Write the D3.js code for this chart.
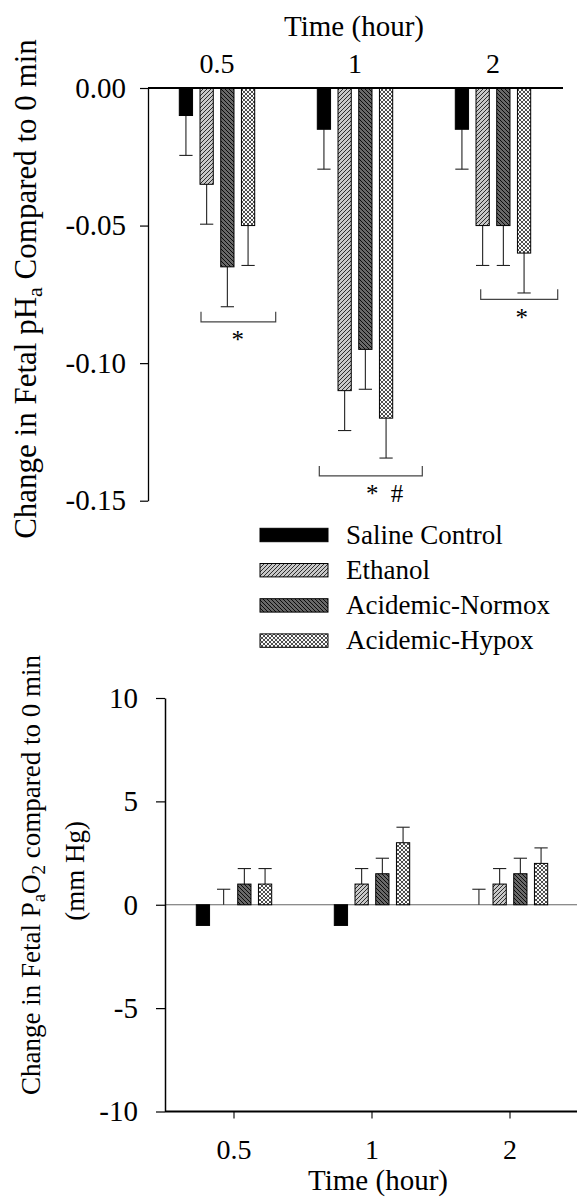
<!DOCTYPE html>
<html>
<head>
<meta charset="utf-8">
<script src="https://cdn.jsdelivr.net/npm/d3@7"></script>
<style>
  html, body { margin: 0; padding: 0; background: #fff; }
  svg { display: block; }
</style>
</head>
<body>
<svg id="chart" width="578" height="1201"></svg>
<script>
// ---- data ----
const times = ["0.5", "1", "2"];
const groups = ["Saline Control", "Ethanol", "Acidemic-Normox", "Acidemic-Hypox"];

// change in fetal arterial pH (mean, SEM) at each time point
const phSaline  = [-0.010, -0.015, -0.015];
const phEthanol = [-0.035, -0.110, -0.050];
const phNormox  = [-0.065, -0.095, -0.050];
const phHypox   = [-0.050, -0.120, -0.060];
const phSalineErr  = [0.0145, 0.0145, 0.0145];
const phEthanolErr = [0.0145, 0.0145, 0.0145];
const phNormoxErr  = [0.0145, 0.0145, 0.0145];
const phHypoxErr   = [0.0145, 0.0145, 0.0145];
const phTicks = [0, -0.05, -0.10, -0.15];

// significance markers for the pH panel
const phSigTimes  = ["0.5", "1", "2"];
const phSigLevels = [-0.085, -0.141, -0.0768];
const phSigLabels = ["*", "* #", "*"];

// change in fetal PaO2 (mm Hg, mean, SEM)
const po2Saline  = [-1, -1, 0];
const po2Ethanol = [0, 1, 1];
const po2Normox  = [1, 1.5, 1.5];
const po2Hypox   = [1, 3, 2];
const po2SalineErr  = [0, 0, 0.75];
const po2EthanolErr = [0.75, 0.75, 0.75];
const po2NormoxErr  = [0.75, 0.75, 0.75];
const po2HypoxErr   = [0.75, 0.75, 0.75];
const po2Ticks = [10, 5, 0, -5, -10];

const phSeries = [
  { name: groups[0], values: phSaline,  errs: phSalineErr },
  { name: groups[1], values: phEthanol, errs: phEthanolErr },
  { name: groups[2], values: phNormox,  errs: phNormoxErr },
  { name: groups[3], values: phHypox,   errs: phHypoxErr }
];
const po2Series = [
  { name: groups[0], values: po2Saline,  errs: po2SalineErr },
  { name: groups[1], values: po2Ethanol, errs: po2EthanolErr },
  { name: groups[2], values: po2Normox,  errs: po2NormoxErr },
  { name: groups[3], values: po2Hypox,   errs: po2HypoxErr }
];

// ---- setup ----
const SERIF = "Liberation Serif";
const svg = d3.select("#chart");

function styleText(sel, size) {
  return sel.attr("font-family", SERIF).style("font-family", `"${SERIF}"`)
    .attr("font-size", size).style("font-size", size + "px").attr("fill", "#000");
}

// fill patterns
const defs = svg.append("defs");
function hatch(id, bg, d, stroke, sw) {
  const p = defs.append("pattern").attr("id", id)
    .attr("patternUnits", "userSpaceOnUse").attr("width", 4).attr("height", 4);
  p.append("rect").attr("width", 4).attr("height", 4).attr("fill", bg);
  p.append("path").attr("d", d).attr("stroke", stroke).attr("stroke-width", sw).attr("fill", "none");
}
hatch("pEthanol", "#c8c8c8", "M-1,1 l2,-2 M0,4 l4,-4 M3,5 l2,-2", "#111", 0.85);
hatch("pNormox", "#686868", "M-1,3 l2,2 M0,0 l4,4 M3,-1 l2,2", "#000", 0.9);
hatch("pHypox", "#fafafa", "M-1,1 l2,-2 M0,4 l4,-4 M3,5 l2,-2 M-1,3 l2,2 M0,0 l4,4 M3,-1 l2,2", "#222", 0.8);

const fills = d3.scaleOrdinal()
  .domain(groups)
  .range(["#000", "url(#pEthanol)", "url(#pNormox)", "url(#pHypox)"]);

const GROUP_SPAN = 75.4;
const x1 = d3.scaleBand().domain(groups).range([0, GROUP_SPAN]).paddingInner(0.36);

function barX(x0, t, name) {
  return x0(t) + (x0.bandwidth() - GROUP_SPAN) / 2 + x1(name);
}

function drawBars(g, x0, y, series) {
  const flat = [];
  series.forEach(s => times.forEach((t, i) => flat.push({ name: s.name, t, v: s.values[i], e: s.errs[i] })));

  // error bars (drawn away from zero)
  const eb = g.append("g").attr("stroke", "#222").attr("stroke-width", 1.1);
  flat.filter(d => d.e > 0).forEach(d => {
    const cx = barX(x0, d.t, d.name) + x1.bandwidth() / 2;
    const dir = d.v < 0 ? -1 : 1;
    const y1 = y(d.v), y2 = y(d.v + dir * d.e);
    eb.append("line").attr("x1", cx).attr("x2", cx).attr("y1", y1).attr("y2", y2);
    eb.append("line").attr("x1", cx - x1.bandwidth() / 2).attr("x2", cx + x1.bandwidth() / 2)
      .attr("y1", y2).attr("y2", y2);
  });

  g.append("g").selectAll("rect")
    .data(flat.filter(d => d.v !== 0))
    .join("rect")
    .attr("x", d => barX(x0, d.t, d.name))
    .attr("width", x1.bandwidth())
    .attr("y", d => Math.min(y(d.v), y(0)))
    .attr("height", d => Math.abs(y(d.v) - y(0)))
    .attr("fill", d => fills(d.name))
    .attr("stroke", "#000")
    .attr("stroke-width", 1);
}

// ---- pH panel ----
const phX = d3.scaleBand().domain(times).range([148, 562]);
const phY = d3.scaleLinear().domain([-0.15, 0]).range([500.7, 88]);
const gTop = svg.append("g");

drawBars(gTop, phX, phY, phSeries);

const topAxis = gTop.append("g").attr("transform", `translate(0,${phY(0)})`)
  .call(d3.axisTop(phX).tickSize(0).tickSizeOuter(0).tickPadding(15));
topAxis.attr("font-family", SERIF);
topAxis.select(".domain").attr("stroke-width", 1.8).attr("d", `M148,0H563`);
styleText(topAxis.selectAll("text"), 28);

const leftTop = gTop.append("g").attr("transform", "translate(148,0)")
  .call(d3.axisLeft(phY).tickValues(phTicks).tickSize(8).tickSizeOuter(0).tickPadding(14)
    .tickFormat(d => d.toFixed(2)));
leftTop.attr("font-family", SERIF);
leftTop.select(".domain").attr("stroke-width", 1.3);
leftTop.selectAll(".tick line").attr("stroke-width", 1.2);
styleText(leftTop.selectAll("text"), 29);

styleText(gTop.append("text"), 29).attr("x", 354).attr("y", 36).attr("text-anchor", "middle")
  .text("Time (hour)");

const phLabel = styleText(gTop.append("text"), 31).attr("text-anchor", "middle")
  .attr("transform", "translate(36,289) rotate(-90)");
phLabel.append("tspan").text("Change in Fetal pH");
phLabel.append("tspan").style("font-size", "22px").attr("font-size", 22).attr("dy", 6).text("a");
phLabel.append("tspan").attr("dy", -6).text(" Compared to 0 min");

// significance brackets
const sigOffsets = [[-16, 58.7, 20.7], [-35.7, 67.3, 29.5], [-12.3, 64.7, 28.7]];
phSigTimes.forEach((t, i) => {
  const c = phX(t) + phX.bandwidth() / 2;
  const [a, b, lx] = sigOffsets[i];
  const yy = phY(phSigLevels[i]);
  gTop.append("path")
    .attr("d", `M${c + a},${yy - 10}V${yy}H${c + b}V${yy - 10}`)
    .attr("fill", "none").attr("stroke", "#444").attr("stroke-width", 1.2);
  styleText(gTop.append("text"), 25).attr("x", c + lx).attr("y", yy + 26.5)
    .attr("text-anchor", "middle").style("word-spacing", "6px")
    .text(phSigLabels[i]);
});

// legend
const legend = svg.append("g");
groups.forEach((name, i) => {
  const cy = 535 + i * 35.2;
  legend.append("rect").attr("x", 260).attr("y", cy - 6.7).attr("width", 68).attr("height", 13.4)
    .attr("fill", fills(name)).attr("stroke", "#000").attr("stroke-width", 1);
  styleText(legend.append("text"), 27).attr("x", 346).attr("y", cy + 8.5).text(name);
});

// ---- PaO2 panel ----
const poX = d3.scaleBand().domain(times).range([165, 579]);
const poY = d3.scaleLinear().domain([-10, 10]).range([1111.5, 698]);
const gBot = svg.append("g");

gBot.append("line").attr("x1", 165).attr("x2", 577).attr("y1", poY(0)).attr("y2", poY(0))
  .attr("stroke", "#666").attr("stroke-width", 1.2);

drawBars(gBot, poX, poY, po2Series);

const bottomAxis = gBot.append("g").attr("transform", `translate(0,${poY(-10)})`)
  .call(d3.axisBottom(poX).tickSize(7).tickSizeOuter(0).tickPadding(21));
bottomAxis.attr("font-family", SERIF);
bottomAxis.select(".domain").attr("stroke-width", 1.8).attr("d", "M165,0H577");
bottomAxis.selectAll(".tick line").attr("stroke-width", 1.1);
styleText(bottomAxis.selectAll("text"), 28);

const leftBot = gBot.append("g").attr("transform", "translate(165,0)")
  .call(d3.axisLeft(poY).tickValues(po2Ticks).tickSize(9).tickSizeOuter(0).tickPadding(18)
    .tickFormat(d => String(d)));
leftBot.attr("font-family", SERIF);
leftBot.select(".domain").attr("stroke-width", 1.5);
leftBot.selectAll(".tick line").attr("stroke-width", 1.2);
styleText(leftBot.selectAll("text"), 29);

styleText(gBot.append("text"), 29).attr("x", 378).attr("y", 1190).attr("text-anchor", "middle")
  .text("Time (hour)");

const poLabel = styleText(gBot.append("text"), 27).attr("text-anchor", "middle")
  .attr("transform", "translate(40,875) rotate(-90)");
poLabel.append("tspan").text("Change in Fetal P");
poLabel.append("tspan").style("font-size", "19px").attr("font-size", 19).attr("dy", 5).text("a");
poLabel.append("tspan").attr("dy", -5).text("O");
poLabel.append("tspan").style("font-size", "19px").attr("font-size", 19).attr("dy", 5).text("2");
poLabel.append("tspan").attr("dy", -5).text(" compared to 0 min");
styleText(gBot.append("text"), 27).attr("text-anchor", "middle")
  .attr("transform", "translate(84,871) rotate(-90)").text("(mm Hg)");
</script>
</body>
</html>
